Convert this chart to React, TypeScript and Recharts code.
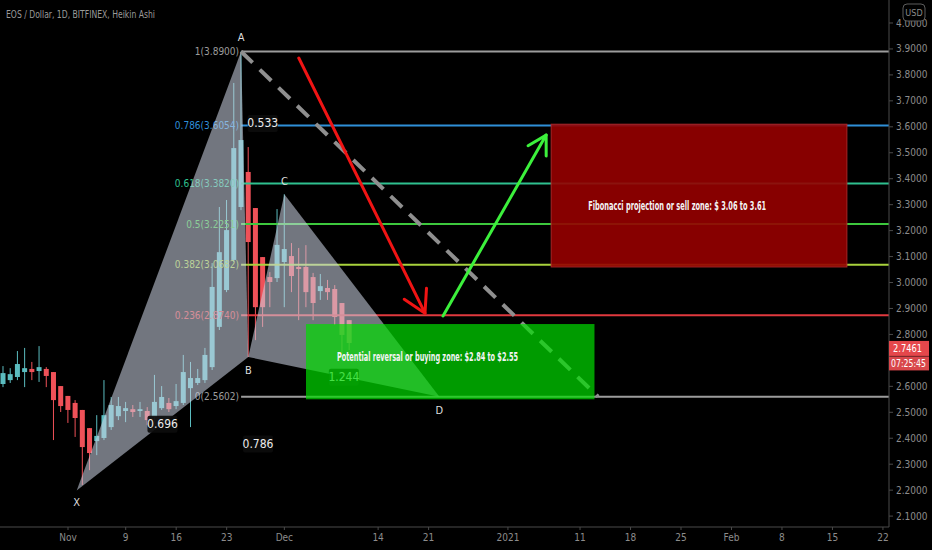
import React from "react";
import { ComposedChart, Bar, XAxis, YAxis, ReferenceLine, ReferenceArea, ReferenceDot } from "recharts";

const FONT = "'Liberation Sans Narrow', 'DejaVu Sans Condensed', 'Arial Narrow', sans-serif";
const UP = "#5bbcbf";
const DOWN = "#ef5158";
const AXIS_TEXT = "#8c8c8c";

const X_MIN = -9.43;
const X_MAX = 113.84;
const Y_MIN = 2.058;
const Y_MAX = 4.0886;

// day index, 0 = 1 Nov 2020 (Heikin Ashi daily candles)
const candleDays = [
  -9, -8, -7, -6, -5, -4, -3, -2, -1, 0, 1, 2, 3, 4, 5, 6, 7, 8, 9, 10, 11, 12, 13, 14, 15,
  16, 17, 18, 19, 20, 21, 22, 23, 24, 25, 26, 27, 28, 29, 30, 31, 32, 33, 34, 35, 36, 37, 38, 39,
];
const opens = [
  2.609, 2.624, 2.636, 2.655, 2.667, 2.659, 2.667, 2.655, 2.601, 2.563, 2.536, 2.509, 2.439, 2.389,
  2.401, 2.443, 2.485, 2.505, 2.512, 2.505, 2.505, 2.482, 2.516, 2.536, 2.524, 2.536, 2.593, 2.613,
  2.624, 2.674, 2.829, 2.971, 3.087, 3.291, 3.426, 3.287, 3.098, 3.021, 3.017, 3.079, 3.102, 3.06,
  3.06, 3.021, 2.967, 2.979, 2.975, 2.921, 2.855,
];
const highs = [
  2.678, 2.67, 2.736, 2.748, 2.694, 2.755, 2.674, 2.655, 2.601, 2.563, 2.547, 2.509, 2.439, 2.489,
  2.624, 2.559, 2.559, 2.54, 2.528, 2.54, 2.52, 2.644, 2.601, 2.555, 2.609, 2.721, 2.694, 2.667,
  2.748, 3.075, 3.291, 3.318, 3.769, 3.89, 3.522, 3.287, 3.098, 3.04, 3.283, 3.34, 3.152, 3.133,
  3.144, 3.037, 3.033, 3.01, 2.99, 2.921, 2.855,
];
const lows = [
  2.597, 2.613, 2.624, 2.597, 2.624, 2.617, 2.597, 2.393, 2.501, 2.459, 2.405, 2.22, 2.277, 2.335,
  2.393, 2.432, 2.47, 2.462, 2.482, 2.482, 2.451, 2.459, 2.509, 2.501, 2.512, 2.528, 2.443, 2.605,
  2.613, 2.663, 2.817, 2.963, 3.079, 3.279, 2.713, 2.778, 2.829, 2.905, 3.002, 2.905, 2.963, 2.855,
  2.905, 2.855, 2.933, 2.933, 2.836, 2.701, 2.74,
];
const closes = [
  2.651, 2.647, 2.686, 2.67, 2.655, 2.674, 2.64, 2.547, 2.524, 2.509, 2.478, 2.366, 2.343, 2.409,
  2.489, 2.528, 2.524, 2.516, 2.501, 2.512, 2.47, 2.54, 2.559, 2.512, 2.543, 2.655, 2.632, 2.632,
  2.721, 2.983, 3.117, 3.202, 3.518, 3.549, 3.156, 2.905, 2.905, 3.002, 3.145, 3.129, 3.025, 3.052,
  2.963, 2.921, 2.986, 2.963, 2.867, 2.798, 2.767,
];

const tickDays = [0, 8, 15, 22, 30, 43, 50, 61, 71, 78, 85, 92, 99, 106, 113];
const tickLabels = ["Nov", "9", "16", "23", "Dec", "14", "21", "2021", "11", "18", "25", "Feb", "8", "15", "22"];
// 2.7 sits under the last-price tag, so it is left out
const priceTicks = [
  2.1, 2.2, 2.3, 2.4, 2.5, 2.6, 2.8, 2.9, 3.0, 3.1, 3.2, 3.3, 3.4, 3.5, 3.6, 3.7, 3.8, 3.9, 4.0,
];

// XABCD harmonic pattern
const patternNames = ["X", "A", "B", "C", "D"];
const patternDays = [1.2, 24, 25, 30, 51.5];
const patternPrices = [2.199, 3.89, 2.713, 3.34, 2.5602];

// Fibonacci retracement drawn from A down to D
const fibRatios = ["1", "0.786", "0.618", "0.5", "0.382", "0.236", "0"];
const fibPrices = [3.89, 3.6054, 3.382, 3.2251, 3.0682, 2.874, 2.5602];
const fibColors = ["#9c9c9c", "#2f8fd8", "#2fc08f", "#3dc83d", "#a9d23c", "#e0393e", "#9c9c9c"];

// zones
const buyZone = { from: 33, to: 73, top: 2.84, bottom: 2.55 };
const sellZone = { from: 67, to: 108, top: 3.61, bottom: 3.06 };

// trend guide and arrows: [day, price] pairs
const guideLine = [[24, 3.89], [73.5, 2.5602]];
const downArrow = [[32, 3.865], [49.5, 2.882]];
const upArrow = [[52, 2.871], [66.3, 3.568]];

const lastPrice = 2.7461;
const countdown = "07:25:45";

const candles = candleDays.map((day, i) => ({
  day,
  open: opens[i],
  high: highs[i],
  low: lows[i],
  close: closes[i],
  range: [lows[i], highs[i]],
}));

const Candle = (props: any) => {
  const { x, y, width, height, payload } = props;
  const { open, close, high, low } = payload;
  const color = close >= open ? UP : DOWN;
  const k = height / (high - low || 1);
  const top = y + (high - Math.max(open, close)) * k;
  const bot = y + (high - Math.min(open, close)) * k;
  const cx = x + width / 2;
  return (
    <g>
      <line x1={cx} x2={cx} y1={y} y2={y + height} stroke={color} strokeWidth={1} />
      <rect x={cx - 2.5} y={top} width={5} height={Math.max(1, bot - top)} fill={color} />
    </g>
  );
};

const fibShape = (label: string, color: string) => (p: any) => (
  <g>
    <line x1={p.x1} y1={p.y1} x2={p.x2} y2={p.y2} stroke={color} strokeWidth={2} />
    <text x={p.x1 - 2} y={p.y1 + 3.5} textAnchor="end" fill={color} fontSize={10} fontFamily={FONT}>
      {label}
    </text>
  </g>
);

const triangleShape = (ids: number[]) => (p: any) => {
  const ds = ids.map((i) => patternDays[i]);
  const ps = ids.map((i) => patternPrices[i]);
  const d0 = Math.min(...ds);
  const d1 = Math.max(...ds);
  const p0 = Math.min(...ps);
  const p1 = Math.max(...ps);
  const pts = ids
    .map((i) => {
      const px = p.x + ((patternDays[i] - d0) / (d1 - d0)) * p.width;
      const py = p.y + ((p1 - patternPrices[i]) / (p1 - p0)) * p.height;
      return `${px},${py}`;
    })
    .join(" ");
  return <polygon points={pts} fill="#ccd2e2" fillOpacity={0.56} />;
};

const arrowShape = (color: string, head: number) => (p: any) => {
  const { x1, y1, x2, y2 } = p;
  const a = Math.atan2(y2 - y1, x2 - x1);
  const s = 0.52;
  const ax = x2 - head * Math.cos(a - s);
  const ay = y2 - head * Math.sin(a - s);
  const bx = x2 - head * Math.cos(a + s);
  const by = y2 - head * Math.sin(a + s);
  return (
    <g stroke={color} strokeWidth={3} strokeLinecap="round" strokeLinejoin="round" fill="none">
      <line x1={x1} y1={y1} x2={x2} y2={y2} />
      <polyline points={`${ax},${ay} ${x2},${y2} ${bx},${by}`} />
    </g>
  );
};

const zoneShape = (fill: string, opacity: number, stroke: string, text: string, dx: number, fy: number, tl: number) => (p: any) => (
  <g>
    <rect x={p.x} y={p.y} width={p.width} height={p.height} fill={fill} fillOpacity={opacity} stroke={stroke} strokeWidth={1} />
    <text
      x={p.x + dx}
      y={p.y + p.height * fy}
      fill="#f4f4f4"
      fontSize={12}
      fontWeight="bold"
      fontFamily={FONT}
      textLength={tl}
      lengthAdjust="spacingAndGlyphs"
    >
      {text}
    </text>
  </g>
);

const pointLabel = (text: string, dy: number) => (p: any) => (
  <text x={p.cx} y={p.cy + dy} textAnchor="middle" fill="#dedede" fontSize={11} fontFamily={FONT}>
    {text}
  </text>
);

const ratioLabel = (text: string) => (p: any) => (
  <g>
    <rect x={p.cx - 15} y={p.cy - 8} width={30} height={17} rx={2} fill="#0c0c0c" fillOpacity={0.92} />
    <text x={p.cx} y={p.cy + 4.5} textAnchor="middle" fill="#ececec" fontSize={12} fontFamily={FONT}>
      {text}
    </text>
  </g>
);

const priceTag = (p: any) => (
  <g fontFamily={FONT} fontSize={10} fill="#ffffff">
    <rect x={p.cx} y={p.cy - 7.5} width={40} height={15} fill="#e5474b" />
    <text x={p.cx + 4} y={p.cy + 3.5} textLength={29} lengthAdjust="spacingAndGlyphs">
      {lastPrice.toFixed(4)}
    </text>
    <rect x={p.cx} y={p.cy + 8} width={40} height={14} fill="#d9474b" />
    <text x={p.cx + 2} y={p.cy + 18.5} textLength={35} lengthAdjust="spacingAndGlyphs">
      {countdown}
    </text>
  </g>
);

// leg ratios of the pattern
const P = patternPrices;
const mid = (i: number, j: number) => ({
  x: (patternDays[i] + patternDays[j]) / 2,
  y: (P[i] + P[j]) / 2,
});
const ratios = [
  { at: mid(0, 2), text: ((P[1] - P[2]) / (P[1] - P[0])).toFixed(3) },
  { at: mid(1, 3), text: ((P[3] - P[2]) / (P[1] - P[2])).toFixed(3) },
  { at: mid(2, 4), text: ((P[3] - P[4]) / (P[3] - P[2])).toFixed(3) },
  { at: mid(0, 4), text: ((P[1] - P[4]) / (P[1] - P[0])).toFixed(3) },
];
const labelOffsets = [16, -11, 17, -9, 17];

const box = (ids: number[]) => {
  const ds = ids.map((i) => patternDays[i]);
  const ps = ids.map((i) => patternPrices[i]);
  return { x1: Math.min(...ds), x2: Math.max(...ds), y1: Math.min(...ps), y2: Math.max(...ps) };
};

export default function App() {
  const t1 = box([0, 1, 2]);
  const t2 = box([2, 3, 4]);
  return (
    <div style={{ position: "absolute", left: 0, top: 0, width: 932, height: 550, background: "#000", overflow: "hidden" }}>
      <ComposedChart width={932} height={550} data={candles} margin={{ top: 0, right: 0, bottom: 0, left: 0 }}>
        <XAxis
          dataKey="day"
          type="number"
          domain={[X_MIN, X_MAX]}
          allowDataOverflow
          ticks={tickDays}
          interval={0}
          tickFormatter={(v: number) => tickLabels[tickDays.indexOf(v)]}
          height={23}
          stroke="#4a4a4a"
          tickSize={3}
          tickMargin={4}
          tick={{ fill: AXIS_TEXT, fontSize: 10, fontFamily: FONT }}
        />
        <YAxis
          orientation="right"
          type="number"
          domain={[Y_MIN, Y_MAX]}
          allowDataOverflow
          ticks={priceTicks}
          interval={0}
          tickFormatter={(v: number) => v.toFixed(4)}
          width={43}
          stroke="#4a4a4a"
          tickSize={4}
          tickMargin={3}
          tick={{ fill: AXIS_TEXT, fontSize: 10, fontFamily: FONT }}
        />
        <Bar dataKey="range" barSize={5} shape={Candle} isAnimationActive={false} zIndex={300} />

        {fibPrices.map((price, i) => (
          <ReferenceLine
            key={"fib" + i}
            segment={[{ x: patternDays[1], y: price }, { x: X_MAX, y: price }]}
            ifOverflow="visible"
            shape={fibShape(`${fibRatios[i]}(${price.toFixed(4)})`, fibColors[i])}
            zIndex={310}
          />
        ))}

        <ReferenceArea {...t1} ifOverflow="visible" shape={triangleShape([0, 1, 2])} zIndex={320} />
        <ReferenceArea {...t2} ifOverflow="visible" shape={triangleShape([2, 3, 4])} zIndex={320} />

        {ratios.map((r, i) => (
          <ReferenceDot key={"r" + i} x={r.at.x} y={r.at.y} r={1} ifOverflow="visible" shape={ratioLabel(r.text)} zIndex={330} />
        ))}

        <ReferenceLine
          segment={guideLine.map(([x, y]) => ({ x, y }))}
          ifOverflow="visible"
          stroke="#8f8f8f"
          strokeWidth={4}
          strokeDasharray="16 10"
          zIndex={340}
        />

        <ReferenceArea
          x1={buyZone.from}
          x2={buyZone.to}
          y1={buyZone.bottom}
          y2={buyZone.top}
          ifOverflow="visible"
          shape={zoneShape("#00dd00", 0.7, "none", `Potential reversal or buying zone: $${buyZone.top.toFixed(2)} to $${buyZone.bottom.toFixed(2)}`, 31, 0.49, 181)}
          zIndex={350}
        />
        <ReferenceArea
          x1={sellZone.from}
          x2={sellZone.to}
          y1={sellZone.bottom}
          y2={sellZone.top}
          ifOverflow="visible"
          shape={zoneShape("#960000", 0.9, "#a82424", `Fibonacci projection or sell zone: $ ${sellZone.bottom.toFixed(2)} to ${sellZone.top.toFixed(2)}`, 37, 0.6, 178)}
          zIndex={350}
        />

        <ReferenceLine
          segment={downArrow.map(([x, y]) => ({ x, y }))}
          ifOverflow="visible"
          shape={arrowShape("#f01414", 25)}
          zIndex={360}
        />
        <ReferenceLine
          segment={upArrow.map(([x, y]) => ({ x, y }))}
          ifOverflow="visible"
          shape={arrowShape("#3cf03c", 21)}
          zIndex={360}
        />

        {patternNames.map((name, i) => (
          <ReferenceDot
            key={name}
            x={patternDays[i]}
            y={patternPrices[i]}
            r={1}
            ifOverflow="visible"
            shape={pointLabel(name, labelOffsets[i])}
            zIndex={370}
          />
        ))}

        <ReferenceDot x={X_MAX} y={lastPrice} r={1} ifOverflow="visible" shape={priceTag} zIndex={600} />
      </ComposedChart>

      <svg width={932} height={550} style={{ position: "absolute", left: 0, top: 0, pointerEvents: "none" }}>
        <text x={6} y={18} fill="#9a9a9a" fontSize={11} fontFamily={FONT} textLength={149} lengthAdjust="spacingAndGlyphs">
          EOS / Dollar, 1D, BITFINEX, Heikin Ashi
        </text>
        <rect x={903} y={4} width={22} height={17} rx={4} fill="#000" stroke="#5c5c5c" />
        <text x={914} y={16} textAnchor="middle" fill={AXIS_TEXT} fontSize={9} fontFamily={FONT}>
          USD
        </text>
      </svg>
    </div>
  );
}
